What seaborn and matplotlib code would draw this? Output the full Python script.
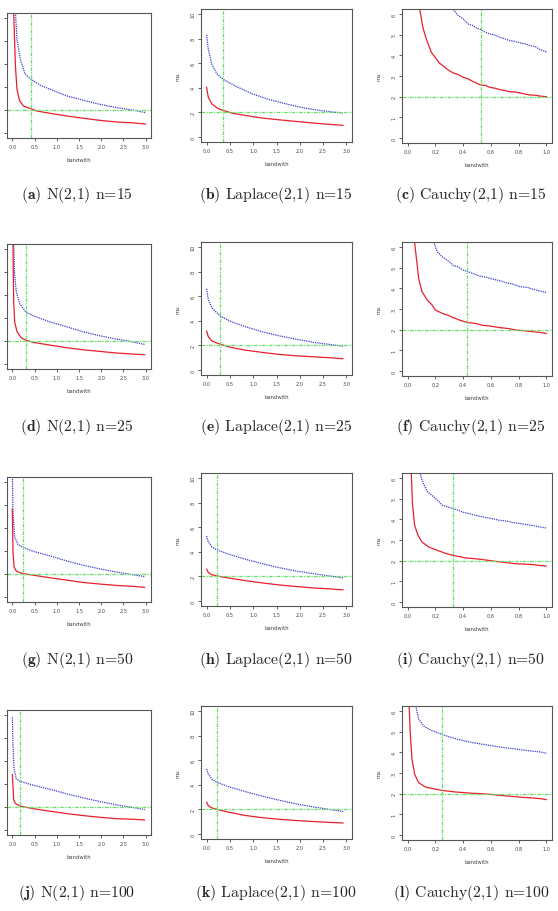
import matplotlib
matplotlib.use("Agg")
import matplotlib.pyplot as plt
import seaborn as sns
import pandas as pd

# ---------------- data ----------------
# N(2,1) n=15
a_red_x = [0.015, 0.03, 0.07, 0.105, 0.165, 0.255, 0.40, 0.556, 0.857, 1.23, 1.61, 1.98, 2.36, 2.74, 3.0]
a_red_y = [14.0, 10.4, 5.8, 3.8, 2.8, 2.36, 2.16, 1.93, 1.73, 1.5, 1.3, 1.12, 0.98, 0.9, 0.8]
a_blue_x = [0.05, 0.07, 0.105, 0.18, 0.29, 0.40, 0.63, 0.857, 1.23, 1.61, 1.98, 2.36, 2.74, 3.0]
a_blue_y = [13.0, 10.4, 8.1, 6.4, 5.1, 4.73, 4.15, 3.8, 3.23, 2.85, 2.5, 2.22, 1.99, 1.79]
# Laplace(2,1) n=15
b_red_x = [0.0, 0.036, 0.11, 0.25, 0.36, 0.54, 0.83, 1.2, 1.56, 1.92, 2.28, 2.64, 2.93]
b_red_y = [4.05, 3.24, 2.7, 2.3, 2.16, 1.95, 1.76, 1.54, 1.4, 1.27, 1.14, 1.03, 0.95]
b_blue_x = [0.0, 0.036, 0.11, 0.22, 0.36, 0.62, 0.98, 1.34, 1.7, 2.07, 2.43, 2.72, 2.93]
b_blue_y = [8.3, 7.16, 5.95, 5.14, 4.68, 4.14, 3.51, 3.05, 2.7, 2.38, 2.16, 2.03, 1.95]
# Cauchy(2,1) n=15
c_red_x = [0.075, 0.087, 0.11, 0.135, 0.171, 0.207, 0.23, 0.255, 0.29, 0.328, 0.36, 0.40, 0.44, 0.472,
           0.528, 0.56, 0.593, 0.63, 0.665, 0.70, 0.737, 0.77, 0.81, 0.85, 0.882, 0.92, 0.954, 1.0]
c_red_y = [7.0, 6.24, 5.35, 4.79, 4.15, 3.82, 3.62, 3.5, 3.3, 3.15, 3.08, 2.94, 2.85, 2.73,
           2.56, 2.55, 2.45, 2.41, 2.34, 2.3, 2.24, 2.23, 2.18, 2.12, 2.08, 2.07, 2.03, 2.0]
c_blue_x = [0.30, 0.328, 0.36, 0.40, 0.44, 0.472, 0.50, 0.528, 0.56, 0.593, 0.63, 0.665, 0.70, 0.737,
            0.77, 0.81, 0.85, 0.882, 0.92, 0.954, 0.98, 1.0]
c_blue_y = [6.6, 6.24, 5.95, 5.76, 5.5, 5.44, 5.3, 5.24, 5.12, 5.03, 4.98, 4.87, 4.8, 4.71,
            4.68, 4.6, 4.55, 4.47, 4.42, 4.27, 4.22, 4.15]
# N(2,1) n=25
d_red_x = [0.008, 0.015, 0.03, 0.053, 0.105, 0.2, 0.3, 0.47, 0.84, 1.22, 1.59, 1.97, 2.35, 2.72, 2.98]
d_red_y = [14.0, 10.4, 5.4, 3.68, 2.82, 2.3, 2.1, 1.9, 1.67, 1.44, 1.26, 1.12, 0.98, 0.89, 0.83]
d_blue_x = [0.02, 0.03, 0.053, 0.09, 0.165, 0.3, 0.47, 0.84, 1.22, 1.59, 1.97, 2.35, 2.72, 2.98]
d_blue_y = [13.0, 10.4, 7.7, 6.26, 5.26, 4.54, 4.2, 3.68, 3.25, 2.82, 2.47, 2.18, 1.93, 1.72]
# Laplace(2,1) n=25
e_x = [0.0, 0.036, 0.11, 0.29, 0.54, 0.83, 1.2, 1.56, 1.92, 2.28, 2.64, 2.93]
e_red_y = [3.18, 2.72, 2.37, 2.1, 1.83, 1.62, 1.43, 1.27, 1.16, 1.08, 1.0, 0.92]
e_blue_y = [6.6, 5.74, 5.07, 4.39, 3.91, 3.53, 3.1, 2.78, 2.51, 2.26, 2.08, 1.94]
# Cauchy(2,1) n=25
f_red_x = [0.045, 0.051, 0.068, 0.08, 0.104, 0.141, 0.177, 0.2, 0.25, 0.29, 0.323, 0.38, 0.432, 0.49,
           0.541, 0.60, 0.663, 0.72, 0.784, 0.84, 0.905, 0.95, 1.0]
f_red_y = [7.0, 6.2, 5.2, 4.48, 3.84, 3.44, 3.19, 2.95, 2.79, 2.7, 2.6, 2.45, 2.35, 2.3,
           2.21, 2.17, 2.1, 2.06, 1.98, 1.95, 1.9, 1.87, 1.82]
f_blue_x = [0.18, 0.19, 0.214, 0.25, 0.3, 0.33, 0.36, 0.40, 0.432, 0.47, 0.517, 0.56, 0.614, 0.66,
            0.711, 0.76, 0.808, 0.86, 0.905, 0.95, 1.0]
f_blue_y = [6.6, 6.2, 5.77, 5.53, 5.29, 5.1, 5.05, 4.88, 4.81, 4.72, 4.6, 4.55, 4.44, 4.38,
            4.27, 4.2, 4.08, 4.05, 3.95, 3.88, 3.79]
# N(2,1) n=50
g_red_x = [0.0, 0.015, 0.038, 0.09, 0.226, 0.466, 0.857, 1.22, 1.59, 1.97, 2.35, 2.72, 2.98]
g_red_y = [7.65, 3.93, 2.64, 2.26, 2.06, 1.92, 1.69, 1.49, 1.29, 1.15, 1.03, 0.95, 0.86]
g_blue_x = [0.0, 0.015, 0.053, 0.128, 0.226, 0.466, 0.857, 1.22, 1.59, 1.97, 2.35, 2.72, 2.98]
g_blue_y = [11.0, 7.36, 5.21, 4.56, 4.36, 3.98, 3.58, 3.15, 2.78, 2.46, 2.18, 1.95, 1.8]
# Laplace(2,1) n=50
h_x = [0.0, 0.036, 0.11, 0.22, 0.47, 0.83, 1.2, 1.56, 1.92, 2.28, 2.64, 2.93]
h_red_y = [2.6, 2.33, 2.14, 2.04, 1.88, 1.66, 1.47, 1.31, 1.18, 1.07, 0.99, 0.91]
h_blue_y = [5.28, 4.83, 4.42, 4.16, 3.81, 3.4, 3.03, 2.71, 2.44, 2.23, 2.04, 1.88]
# Cauchy(2,1) n=50
i_red_x = [0.02, 0.027, 0.036, 0.051, 0.075, 0.104, 0.153, 0.226, 0.28, 0.325, 0.37, 0.42, 0.48,
           0.541, 0.60, 0.663, 0.72, 0.784, 0.85, 0.905, 0.95, 1.0]
i_red_y = [7.0, 6.2, 4.68, 3.71, 3.23, 2.9, 2.66, 2.47, 2.34, 2.26, 2.2, 2.13, 2.1,
           2.05, 2.0, 1.94, 1.9, 1.85, 1.83, 1.81, 1.77, 1.74]
i_blue_x = [0.085, 0.092, 0.104, 0.141, 0.189, 0.22, 0.25, 0.29, 0.325, 0.36, 0.396, 0.43, 0.468,
            0.52, 0.566, 0.61, 0.663, 0.71, 0.76, 0.81, 0.857, 0.90, 0.954, 0.98, 1.0]
i_blue_y = [6.6, 6.2, 5.89, 5.35, 5.08, 4.9, 4.68, 4.6, 4.52, 4.45, 4.35, 4.3, 4.23,
            4.15, 4.08, 4.03, 3.95, 3.92, 3.84, 3.8, 3.74, 3.7, 3.63, 3.6, 3.58]
# N(2,1) n=100
j_red_x = [0.0, 0.015, 0.03, 0.068, 0.18, 0.466, 0.857, 1.22, 1.59, 1.97, 2.35, 2.72, 2.98]
j_red_y = [4.84, 3.83, 2.67, 2.32, 2.09, 1.88, 1.65, 1.45, 1.28, 1.13, 1.01, 0.96, 0.9]
j_blue_x = [0.0, 0.015, 0.038, 0.09, 0.18, 0.466, 0.857, 1.22, 1.59, 1.97, 2.35, 2.72, 2.98]
j_blue_y = [9.77, 7.3, 5.28, 4.46, 4.23, 3.91, 3.54, 3.16, 2.81, 2.49, 2.2, 1.97, 1.8]
# Laplace(2,1) n=100
k_x = [0.0, 0.036, 0.11, 0.225, 0.47, 0.83, 1.2, 1.56, 1.92, 2.28, 2.64, 2.93]
k_red_y = [2.59, 2.32, 2.13, 2.0, 1.78, 1.51, 1.33, 1.2, 1.1, 1.02, 0.95, 0.9]
k_blue_y = [5.28, 4.88, 4.47, 4.2, 3.85, 3.45, 3.07, 2.75, 2.45, 2.21, 2.0, 1.83]
# Cauchy(2,1) n=100
l_red_x = [0.008, 0.012, 0.019, 0.032, 0.051, 0.08, 0.129, 0.245, 0.347, 0.468, 0.53, 0.59, 0.65,
           0.711, 0.77, 0.833, 0.89, 0.954, 1.0]
l_red_y = [7.0, 6.2, 4.95, 3.66, 2.94, 2.53, 2.32, 2.16, 2.08, 2.02, 2.0, 1.97, 1.93,
           1.89, 1.86, 1.82, 1.8, 1.76, 1.71]
l_blue_x = [0.055, 0.061, 0.08, 0.117, 0.165, 0.245, 0.30, 0.347, 0.41, 0.468, 0.53, 0.59, 0.65,
            0.711, 0.77, 0.833, 0.89, 0.954, 1.0]
l_blue_y = [6.6, 6.2, 5.6, 5.27, 5.08, 4.87, 4.75, 4.66, 4.55, 4.47, 4.4, 4.34, 4.27,
            4.21, 4.17, 4.11, 4.06, 4.02, 3.95]

bandwidths = [0.41, 0.36, 0.53, 0.30, 0.29, 0.43, 0.23, 0.22, 0.325, 0.18, 0.22, 0.245]
true_mu = 2.0

letters = ["a", "b", "c", "d", "e", "f", "g", "h", "i", "j", "k", "l"]
dists = ["N(2,1)", "Laplace(2,1)", "Cauchy(2,1)"]
sizes = [15, 25, 50, 100]

norm_xticks = [0.0, 0.5, 1.0, 1.5, 2.0, 2.5, 3.0]
cauchy_xticks = [0.0, 0.2, 0.4, 0.6, 0.8, 1.0]
norm_yticks = [0, 2, 4, 6, 8, 10]
cauchy_yticks = [0, 1, 2, 3, 4, 5, 6]

curves = [
    (a_red_x, a_red_y, a_blue_x, a_blue_y),
    (b_red_x, b_red_y, b_blue_x, b_blue_y),
    (c_red_x, c_red_y, c_blue_x, c_blue_y),
    (d_red_x, d_red_y, d_blue_x, d_blue_y),
    (e_x, e_red_y, e_x, e_blue_y),
    (f_red_x, f_red_y, f_blue_x, f_blue_y),
    (g_red_x, g_red_y, g_blue_x, g_blue_y),
    (h_x, h_red_y, h_x, h_blue_y),
    (i_red_x, i_red_y, i_blue_x, i_blue_y),
    (j_red_x, j_red_y, j_blue_x, j_blue_y),
    (k_x, k_red_y, k_x, k_blue_y),
    (l_red_x, l_red_y, l_blue_x, l_blue_y),
]

# ---------------- layout (pixel boxes: left, top, right, bottom) ----------------
W, H = 558, 912
col_x = [(7, 151), (201, 352), (402, 552)]
row_boxes = [
    [(14, 139), (10, 143), (10, 144)],
    [(245, 370), (243, 376), (243, 377)],
    [(478, 603), (474, 607), (474, 608)],
    [(711, 836), (707, 840), (707, 841)],
]
caption_y = [195, 427, 660, 893]
caption_x = [77, 276, 471]

sns.set_style("white")
plt.rcParams["mathtext.fontset"] = "cm"
plt.rcParams["axes.unicode_minus"] = False

fig = plt.figure(figsize=(W / 100, H / 100), dpi=100)

red = "#e8202a"
blue = "#3a3ad8"
green = "#66e066"

for idx in range(12):
    r, c = divmod(idx, 3)
    left, right = col_x[c]
    top, bottom = row_boxes[r][c]
    ax = fig.add_axes([left / W, 1 - bottom / H, (right - left) / W, (bottom - top) / H])
    rx, ry, bx, by = curves[idx]
    df_r = pd.DataFrame({"bandwith": rx, "mu": ry})
    df_b = pd.DataFrame({"bandwith": bx, "mu": by})
    sns.lineplot(data=df_b, x="bandwith", y="mu", ax=ax, color=blue, lw=0.9,
                 linestyle=(0, (1, 0.8)), estimator=None, sort=False)
    sns.lineplot(data=df_r, x="bandwith", y="mu", ax=ax, color=red, lw=0.9,
                 estimator=None, sort=False)
    ax.axhline(true_mu, color=green, lw=0.9, ls=(0, (3, 1, 1, 1)))
    ax.axvline(bandwidths[idx], color=green, lw=0.9, ls=(0, (3, 1, 1, 1)))
    if c == 2:
        ax.set_xlim(-0.04, 1.04)
        ax.set_ylim(-0.24, 6.24)
        ax.set_xticks(cauchy_xticks)
        ax.set_yticks(cauchy_yticks)
        ax.set_xticklabels([f"{v:.1f}" for v in cauchy_xticks])
        ax.set_yticklabels([str(v) for v in cauchy_yticks])
    else:
        ax.set_xlim(-0.12, 3.12)
        ax.set_ylim(-0.4, 10.4)
        ax.set_xticks(norm_xticks)
        ax.set_yticks(norm_yticks)
        ax.set_xticklabels([f"{v:.1f}" for v in norm_xticks])
        ax.set_yticklabels([str(v) for v in norm_yticks])
    ax.tick_params(axis="both", direction="out", length=2.5, width=0.6, color="#444444",
                   labelsize=3.6, labelcolor="#444444", pad=1.5, left=True, bottom=True)
    for lab in ax.get_yticklabels():
        lab.set_rotation(90)
        lab.set_va("center")
    for sp in ax.spines.values():
        sp.set_color("#555555")
        sp.set_linewidth(0.8)
    ax.set_xlabel("bandwith", fontsize=3.8, color="#444444", labelpad=6)
    if c == 0:
        # the y labels of this column lie left of the page edge in the original
        ax.tick_params(axis="y", labelleft=False)
        ax.set_ylabel("")
    else:
        ax.set_ylabel("mu", fontsize=3.8, color="#444444", labelpad=7)

    cap = r"$\mathbf{(" + letters[idx] + r")}$ " + f"{dists[c]} n={sizes[r]}"
    fig.text(caption_x[c] / W, 1 - caption_y[r] / H, cap, ha="center", va="center",
             fontsize=11.3, family="cmr10")

fig.savefig("out.png", dpi=100)
